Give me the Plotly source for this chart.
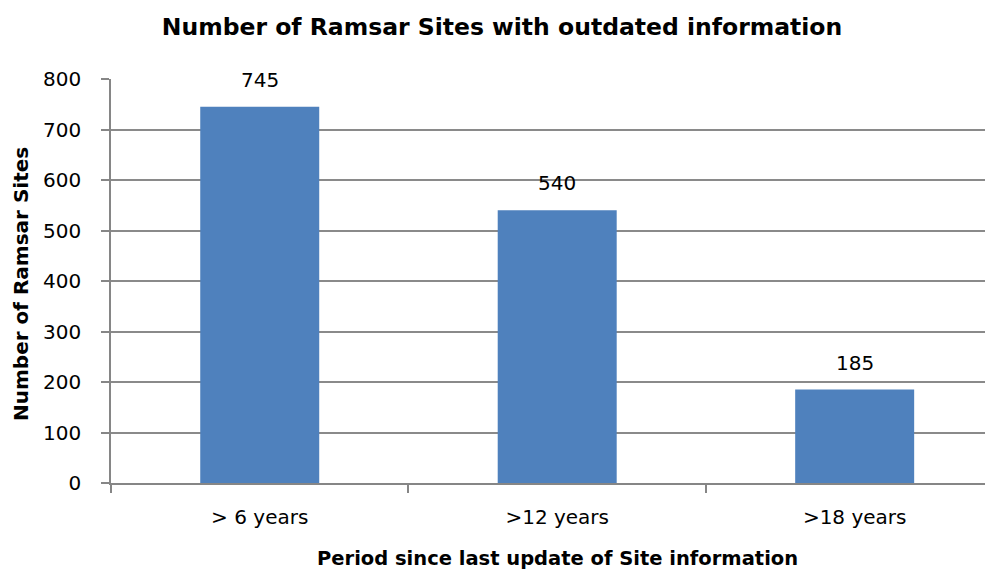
import plotly.graph_objects as go

categories = ["> 6 years", ">12 years", ">18 years"]
values = [745, 540, 185]
y_ticks = [0, 100, 200, 300, 400, 500, 600, 700, 800]

FONT = "DejaVu Sans"
W, H = 985, 562
L, R, T, B = 103, 0, 71, 87
PW, PH = W - L - R, H - T - B

fig = go.Figure(go.Bar(
    x=categories, y=values, width=0.4,
    marker=dict(color="#4F81BD", line=dict(width=0)),
    hoverinfo="x+y",
))

for c, v in zip(categories, values):
    fig.add_annotation(x=c, y=v, text=str(v), showarrow=False,
                       yshift=27, yanchor="middle",
                       font=dict(family=FONT, size=20, color="#000000"))

# axis titles
fig.add_annotation(xref="paper", yref="paper", x=(13 - L) / PW, y=(T + PH - 276) / PH,
                   text="<b>Number of Ramsar Sites</b>", textangle=-90, showarrow=False,
                   xanchor="center", yanchor="middle",
                   font=dict(family=FONT, size=20, color="#000000"))
fig.add_annotation(xref="paper", yref="paper", x=(549 - L) / PW, y=(T + PH - 550) / PH,
                   text="<b>Period since last update of Site information</b>", showarrow=False,
                   xanchor="center", yanchor="middle",
                   font=dict(family=FONT, size=19.5, color="#000000"))

fig.update_layout(
    width=W, height=H,
    margin=dict(l=L, r=R, t=T, b=B, autoexpand=False),
    paper_bgcolor="white", plot_bgcolor="white",
    showlegend=False,
    title=dict(text="<b>Number of Ramsar Sites with outdated information</b>",
               x=494 / W, xanchor="center", y=1 - 19 / H, yanchor="middle",
               font=dict(family=FONT, size=23.5, color="#000000")),
    font=dict(family=FONT, color="#000000"),
)
fig.update_xaxes(
    range=[-0.5, 2.465], tickson="boundaries", ticks="outside", ticklen=8,
    tickcolor="#868686", tickwidth=1.5, showline=True, linecolor="#868686", linewidth=1.5,
    tickfont=dict(family=FONT, size=20, color="#000000"), ticklabelstandoff=15,
    showgrid=False, automargin=False,
)
fig.update_yaxes(
    range=[0, 800], tickvals=y_ticks, ticks="outside", ticklen=8,
    tickcolor="#868686", tickwidth=1.5, showline=True, linecolor="#868686", linewidth=1.5,
    gridcolor="#8A8A8A", gridwidth=1.5, zeroline=False,
    tickfont=dict(family=FONT, size=20, color="#000000"), ticklabelstandoff=16,
    automargin=False,
)

fig.write_html("out.html")
